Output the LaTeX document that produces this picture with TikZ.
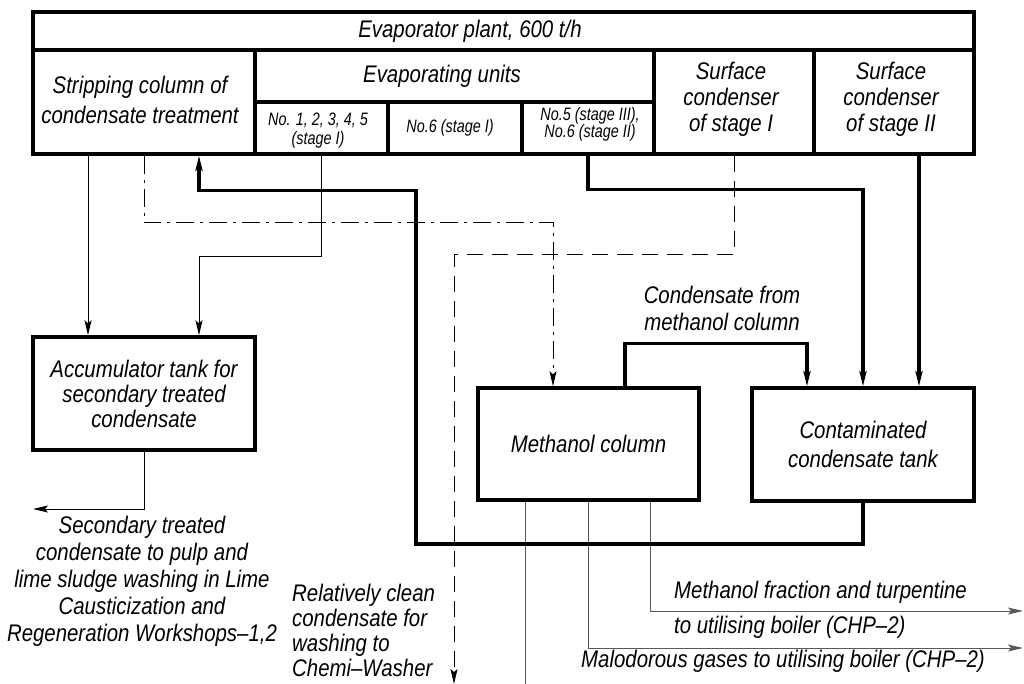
\documentclass[tikz,border=0pt]{standalone}
\usepackage{fontspec}
\setmainfont{Liberation Sans}[FakeStretch=0.85]
\newfontfamily\narrowgost{Liberation Sans}[FakeStretch=0.8]
\usetikzlibrary{arrows.meta}
\begin{document}
\begin{tikzpicture}[x=1pt,y=-1pt,
  box/.style={draw, line width=3.5pt, inner sep=0pt, align=center},
  lbl/.style={inner sep=0pt, align=center, font=\fontsize{24}{27}\selectfont\itshape},
  slbl/.style={inner sep=0pt, align=center, font=\narrowgost\fontsize{18}{19}\selectfont\itshape},
  thinln/.style={line width=1pt},
  greyln/.style={line width=1pt, draw=black!65},
  thickln/.style={line width=3.5pt},
  arr/.style={-{Stealth[length=15pt,width=7pt,inset=3pt]}},
  dashdotln/.style={line width=1pt, dash pattern=on 18pt off 6pt on 3pt off 6pt},
  dashln/.style={line width=1pt, dash pattern=on 16pt off 9pt}]
\useasboundingbox (0,0) rectangle (1024,684);

% header
\node[box, minimum width=941pt, minimum height=38pt] (title) at (503.5,31) {};
\node[lbl] (titletxt) at (470,31) {Evaporator plant, 600 t/h};
\node[box, minimum width=222pt, minimum height=104pt] (strip) at (144,102) {};
\node[lbl, font=\fontsize{24}{30}\selectfont\itshape] (striptxt) at (140,100) {Stripping column of\\condensate treatment};
\node[box, minimum width=399pt, minimum height=52pt] (evap) at (454.5,76) {};
\node[lbl] (evaptxt) at (442,76) {Evaporating units};
\node[box, minimum width=133pt, minimum height=52pt] (subA) at (321.5,128) {};
\node[slbl] (subAtxt) at (318,131) {No. 1, 2, 3, 4, 5\\(stage I)};
\node[box, minimum width=134pt, minimum height=52pt] (subB) at (455,128) {};
\node[slbl] (subBtxt) at (450,128) {No.6 (stage I)};
\node[box, minimum width=132pt, minimum height=52pt] (subC) at (588,128) {};
\node[slbl, font=\narrowgost\fontsize{18}{17}\selectfont\itshape] (subCtxt) at (590,124) {No.5 (stage III),\\No.6 (stage II)};
\node[box, minimum width=160pt, minimum height=104pt] (surf1) at (734,102) {};
\node[lbl, font=\fontsize{24}{26}\selectfont\itshape] (surf1txt) at (731,99) {Surface\\condenser\\of stage I};
\node[box, minimum width=160pt, minimum height=104pt] (surf2) at (894,102) {};
\node[lbl, font=\fontsize{24}{26}\selectfont\itshape] (surf2txt) at (891,99) {Surface\\condenser\\of stage II};

% lower boxes
\node[box, minimum width=222pt, minimum height=113pt, font=\fontsize{24}{25}\selectfont\itshape] (acc) at (144,393.5) {Accumulator tank for\\secondary treated\\condensate};
\node[box, minimum width=221pt, minimum height=112pt, font=\fontsize{24}{27}\selectfont\itshape] (meth) at (588.5,444) {Methanol column};
\node[box, minimum width=222pt, minimum height=113pt, font=\fontsize{24}{29}\selectfont\itshape] (tank) at (863,444.5) {Contaminated\\condensate tank};

% free ends
\coordinate (accout) at (33,509);
\coordinate (cleanout) at (454,684);
\coordinate (out1) at (1023,611);
\coordinate (out2) at (1023,648);
\coordinate (out3) at (525,684);

% thin connectors
\draw[thinln, arr] ([xshift=-56pt]strip.south) -- ([xshift=-56pt]acc.north);
\draw[thinln, arr] (subA.south) -- ++(0,101) -| ([xshift=55pt]acc.north);
\draw[thinln, arr] (acc.south) |- (accout);
\draw[dashdotln, arr] (strip.south) -- ++(0,67) -| ([xshift=-35.5pt]meth.north);
\draw[dashln, arr] (surf1.south) -- ++(0,99) -| (cleanout);
\draw[greyln, arr] ([xshift=61.5pt]meth.south) |- (out1);
\draw[greyln, arr] ([xshift=-0.5pt]meth.south) |- (out2);
\draw[greyln] ([xshift=-63.5pt]meth.south) -- (out3);

% thick connectors
\draw[thickln, arr] (subC.south) -- ++(0,34) -| (tank.north);
\draw[thickln, arr] ([xshift=25pt]surf2.south) -- ([xshift=56pt]tank.north);
\draw[thickln, arr] ([xshift=36.5pt]meth.north) -- ++(0,-43) -| ([xshift=-56pt]tank.north);
\draw[thickln, arr] (tank.south) -- ++(0,41) -- ++(-447,0) -- ++(0,-353) -| ([xshift=55pt]strip.south);

% labels
\node[lbl] (condlbl) at (722,308) {Condensate from\\methanol column};
\node[lbl] (seclbl) at (142,581) {Secondary treated\\condensate to pulp and\\lime sludge washing in Lime\\Causticization and\\Regeneration Workshops--1,2};
\node[lbl, align=left, anchor=west, font=\fontsize{24}{25}\selectfont\itshape] (cleanlbl) at (292,630) {Relatively clean\\condensate for\\washing to\\Chemi--Washer};
\node[lbl, anchor=west] (methlbl) at (674,592) {Methanol fraction and turpentine};
\node[lbl, anchor=west] (methlbl2) at (674,627) {to utilising boiler (CHP--2)};
\node[lbl, anchor=west] (malolbl) at (581,661) {Malodorous gases to utilising boiler (CHP--2)};
\end{tikzpicture}
\end{document}
